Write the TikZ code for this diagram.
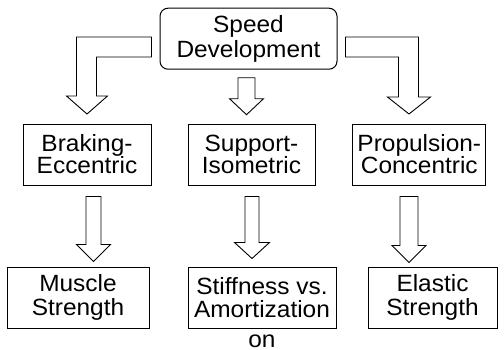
\documentclass[tikz,border=0pt]{standalone}
\usepackage{fontspec}
\setmainfont[FakeStretch=1.04]{Liberation Sans}
\usetikzlibrary{calc}

\tikzset{
  box/.style={draw,line width=1pt,align=center,inner sep=0pt,
    minimum height=61pt,font=\fontsize{23.5}{23.5}\selectfont},
  blockarrow/.style={draw,line width=0.9pt,fill=white,line join=miter},
}

% straight block arrow: start, shaft length, shaft half, head half, head length
\newcommand{\blockdown}[5]{%
  \draw[blockarrow] (#1) ++(-#3,0) -- ++(0,#2) -- ++(-#4+#3,0) -- ++(#4,#5)
    -- ++(#4,-#5) -- ++(-#4+#3,0) -- ++(0,-#2) -- cycle;}

\begin{document}
\begin{tikzpicture}[x=1pt,y=-1pt]
  \useasboundingbox (0,0) rectangle (504,349);

  \node[box,rounded corners=8pt,minimum width=177pt,font=\fontsize{23.5}{25}\selectfont]
    (speed) at (248.5,38.7) {Speed\\Development};

  \node[box,minimum width=128pt,font=\fontsize{23.5}{22}\selectfont] (braking) at (87,154.5) {Braking-\\Eccentric};
  \node[box,minimum width=127pt,font=\fontsize{23.5}{22}\selectfont] (support) at (251.5,154.5) {Support-\\Isometric};
  \node[box,minimum width=133pt,font=\fontsize{23.5}{22}\selectfont] (propul)  at (419.3,154.5) {Propulsion-\\Concentric};

  \node[box,minimum width=142pt] (muscle)  at (78,297.5) {Muscle\\Strength};
  \node[box,minimum width=148pt,
    label={[label distance=6pt,inner sep=0pt,font=\fontsize{23.5}{23.5}\selectfont]below:on}]
    (stiff) at (262,297.5) {Stiffness vs.\\Amortization};
  \node[box,minimum width=129pt] (elastic) at (432.5,297.5) {Elastic\\Strength};

  % bent arrows from the top box
  \draw[blockarrow] (speed.west) ++(-8,-1.7) -- ++(-75,0) -- ++(0,59) -- ++(-10,0)
    -- ++(20.5,18) -- ++(20.5,-18) -- ++(-11,0) -- ++(0,-39) -- ++(55,0) -- cycle;
  \draw[blockarrow] (speed.east) ++(8,-1.7) -- ++(73,0) -- ++(0,60) -- ++(12,0)
    -- ++(-21.5,17) -- ++(-21.5,-17) -- ++(11,0) -- ++(0,-40) -- ++(-53,0) -- cycle;
  \blockdown{$(speed.south)+(-2,8)$}{21}{8.5}{17}{16}

  % second row
  \blockdown{$(braking.south)+(6.5,11)$}{48}{7.5}{17}{17}
  \blockdown{$(support.south)+(0.5,11)$}{46}{7}{17.5}{16}
  \blockdown{$(propul.south)+(-10.3,11)$}{49}{9}{17}{17}
\end{tikzpicture}
\end{document}
